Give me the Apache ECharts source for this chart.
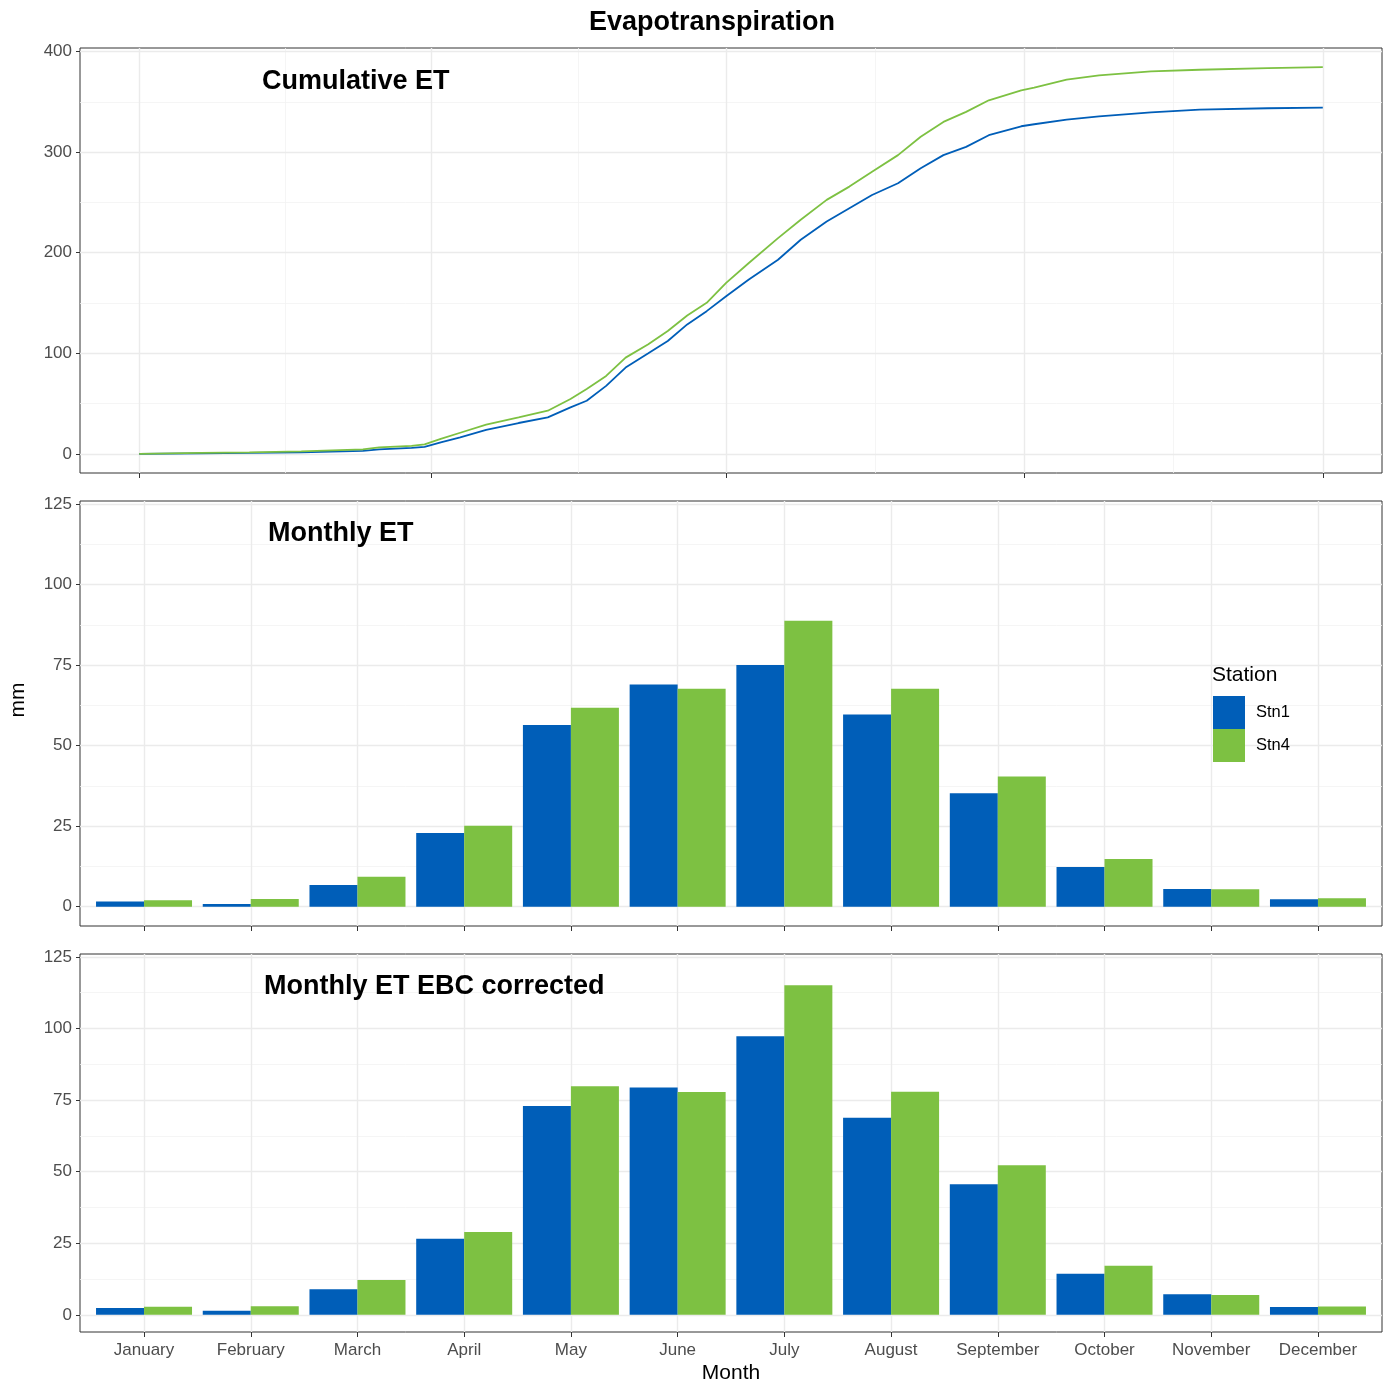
<!DOCTYPE html>
<html>
<head>
<meta charset="utf-8">
<script src="https://cdn.jsdelivr.net/npm/echarts@6/dist/echarts.min.js"></script>
<style>
html,body{margin:0;padding:0;background:#fff;}
#chart{width:1387px;height:1385px;}
</style>
</head>
<body>
<div id="chart"></div>
<script>
// ---------- data ----------
const months = ['January','February','March','April','May','June','July','August','September','October','November','December'];
const monthlyStn1 = [1.6, 0.8, 6.7, 22.9, 56.4, 69.0, 75.1, 59.7, 35.2, 12.3, 5.5, 2.3];
const monthlyStn4 = [2.0, 2.4, 9.3, 25.1, 61.8, 67.7, 88.8, 67.7, 40.4, 14.8, 5.4, 2.6];
const ebcStn1 = [2.4, 1.4, 8.9, 26.6, 72.9, 79.4, 97.3, 68.8, 45.6, 14.3, 7.2, 2.7];
const ebcStn4 = [2.8, 3.0, 12.2, 28.9, 79.8, 77.8, 115.1, 77.9, 52.2, 17.1, 6.9, 2.9];
const cumDays = [0, 19, 34, 50, 69, 74, 84, 88, 93, 99, 107, 117, 126, 133, 138, 144, 150, 157, 163, 169, 175, 181, 188, 197, 204, 212, 219, 226, 234, 241, 248, 255, 262, 272, 276, 286, 296, 312, 327, 348, 365];
const cumStn1 = [0, 0.5, 1, 1.5, 3, 4.5, 6, 7, 11.5, 16.5, 23.8, 30.7, 36.3, 46.2, 52.8, 67.6, 85.8, 100, 112.2, 128.7, 141.9, 156.7, 173.3, 193, 212.9, 231, 244.2, 257.4, 269, 283.9, 297, 305.2, 316.8, 325.7, 327.7, 332.4, 335.6, 339.6, 342.3, 343.6, 344.2];
const cumStn4 = [0, 1, 1.5, 2.5, 4.5, 6.5, 8, 9.5, 15, 21, 29, 36.3, 42.9, 54.5, 64.4, 77.5, 95.7, 108.9, 122.1, 137.6, 150.2, 170, 189.8, 214.5, 232.7, 252.5, 265.7, 280.5, 297, 315.2, 330, 340, 351.5, 361.4, 364, 372, 376.2, 380.2, 381.9, 383.5, 384.5];
const cumYTicks = [0, 100, 200, 300, 400];
const cumYMinor = [50, 150, 250, 350];
const cumXTicks = [0, 90, 181, 273, 365];
const cumXMinor = [45, 135.5, 227, 319];
const barYTicks = [0, 25, 50, 75, 100, 125];
const barYMinor = [12.5, 37.5, 62.5, 87.5, 112.5];
const monthPos = [1, 2, 3, 4, 5, 6, 7, 8, 9, 10, 11, 12];

// ---------- style ----------
const BLUE = '#005EB8';
const GREEN = '#7DC142';
const FONT = 'Liberation Sans, Arial, Helvetica, sans-serif';
const AXCOL = '#4D4D4D';
const MAJOR = {color: '#EBEBEB', width: 1.4, type: 'solid'};
const MINOR = {color: '#F3F3F3', width: 0.8, type: 'solid'};

function gridLines(xMaj, xMin, yMaj, yMin) {
  const d = [];
  (xMin || []).forEach(v => d.push({xAxis: v, lineStyle: MINOR}));
  (yMin || []).forEach(v => d.push({yAxis: v, lineStyle: MINOR}));
  (xMaj || []).forEach(v => d.push({xAxis: v, lineStyle: MAJOR}));
  (yMaj || []).forEach(v => d.push({yAxis: v, lineStyle: MAJOR}));
  return {silent: true, z: 0, symbol: ['none', 'none'], label: {show: false}, emphasis: {disabled: true}, animation: false, data: d};
}

const grids = [
  {left: 80, top: 48, width: 1302, height: 425},
  {left: 80, top: 501, width: 1302, height: 425},
  {left: 80, top: 954, width: 1302, height: 378}
].map(g => Object.assign(g, {show: true, borderColor: '#333333', borderWidth: 1, backgroundColor: 'transparent', containLabel: false}));

function yAxisCfg(gi, min, max, ticks) {
  return {
    type: 'value', gridIndex: gi, min: min, max: max, position: 'left',
    axisLine: {show: false, onZero: false},
    splitLine: {show: false},
    axisTick: {show: true, length: 4, customValues: ticks, lineStyle: {color: '#333333', width: 1}},
    axisLabel: {show: true, customValues: ticks, margin: 8, color: AXCOL, fontSize: 17, fontFamily: FONT}
  };
}

function xAxisCfg(gi, min, max, ticks, labelOpt) {
  return {
    type: 'value', gridIndex: gi, min: min, max: max, position: 'bottom',
    axisLine: {show: false, onZero: false}, splitLine: {show: false},
    axisTick: {show: true, length: 5, customValues: ticks, lineStyle: {color: '#333333', width: 1}},
    axisLabel: labelOpt || {show: false}
  };
}

const TT = {fontSize: 27, fontWeight: 'bold', color: '#000', fontFamily: FONT};

const option = {
  animation: false,
  backgroundColor: '#ffffff',
  textStyle: {fontFamily: FONT},
  grid: grids,
  title: [
    {text: 'Evapotranspiration', left: 589, top: 9, padding: 0, textStyle: TT},
    {text: 'Cumulative ET', left: 262, top: 68, padding: 0, textStyle: TT},
    {text: 'Monthly ET', left: 268, top: 520, padding: 0, textStyle: TT},
    {text: 'Monthly ET EBC corrected', left: 264, top: 973, padding: 0, textStyle: TT},
    {text: 'Station', left: 1212, top: 665, padding: 0, textStyle: {fontSize: 21, fontWeight: 'normal', color: '#000', fontFamily: FONT}}
  ],
  legend: {
    data: ['Stn1', 'Stn4'],
    orient: 'vertical', left: 1213, top: 696,
    itemWidth: 32, itemHeight: 33, itemGap: 0, padding: 0, z: 10,
    icon: 'rect', selectedMode: false,
    textStyle: {fontSize: 16.5, color: '#000', fontFamily: FONT, padding: [0, 0, 0, 6]}
  },
  graphic: [
    {type: 'text', x: 18, y: 700, rotation: Math.PI / 2, style: {text: 'mm', font: '21px ' + FONT, fill: '#000', textAlign: 'center', textVerticalAlign: 'middle'}},
    {type: 'text', x: 731, y: 1373, style: {text: 'Month', font: '21px ' + FONT, fill: '#000', textAlign: 'center', textVerticalAlign: 'middle'}}
  ],
  xAxis: [
    xAxisCfg(0, -18.25, 383.25, cumXTicks),
    xAxisCfg(1, 0.4, 12.6, monthPos),
    xAxisCfg(2, 0.4, 12.6, monthPos,
      {show: true, customValues: monthPos, margin: 10, color: AXCOL, fontSize: 17, fontFamily: FONT,
        formatter: v => months[Math.round(v) - 1] || ''})
  ],
  yAxis: [
    yAxisCfg(0, -19, 403.5, cumYTicks),
    yAxisCfg(1, -6, 126, barYTicks),
    yAxisCfg(2, -6, 126, barYTicks)
  ],
  series: [
    // grid lines (behind)
    {type: 'line', xAxisIndex: 0, yAxisIndex: 0, data: [], z: 0, silent: true,
      markLine: gridLines(cumXTicks, cumXMinor, cumYTicks, cumYMinor)},
    {type: 'line', xAxisIndex: 1, yAxisIndex: 1, data: [], z: 0, silent: true,
      markLine: gridLines(monthPos, null, barYTicks, barYMinor)},
    {type: 'line', xAxisIndex: 2, yAxisIndex: 2, data: [], z: 0, silent: true,
      markLine: gridLines(monthPos, null, barYTicks, barYMinor)},
    // cumulative
    {name: 'Stn1', type: 'line', xAxisIndex: 0, yAxisIndex: 0, z: 3, showSymbol: false, symbol: 'none',
      color: BLUE, lineStyle: {color: BLUE, width: 1.8},
      data: cumDays.map((d, i) => [d, cumStn1[i]])},
    {name: 'Stn4', type: 'line', xAxisIndex: 0, yAxisIndex: 0, z: 3, showSymbol: false, symbol: 'none',
      color: GREEN, lineStyle: {color: GREEN, width: 1.8},
      data: cumDays.map((d, i) => [d, cumStn4[i]])},
    // monthly
    {name: 'Stn1', type: 'bar', xAxisIndex: 1, yAxisIndex: 1, z: 3, barWidth: 48, barGap: '0%',
      itemStyle: {color: BLUE}, data: monthPos.map((m, i) => [m, monthlyStn1[i]])},
    {name: 'Stn4', type: 'bar', xAxisIndex: 1, yAxisIndex: 1, z: 3, barWidth: 48, barGap: '0%',
      itemStyle: {color: GREEN}, data: monthPos.map((m, i) => [m, monthlyStn4[i]])},
    // EBC corrected
    {name: 'Stn1', type: 'bar', xAxisIndex: 2, yAxisIndex: 2, z: 3, barWidth: 48, barGap: '0%',
      itemStyle: {color: BLUE}, data: monthPos.map((m, i) => [m, ebcStn1[i]])},
    {name: 'Stn4', type: 'bar', xAxisIndex: 2, yAxisIndex: 2, z: 3, barWidth: 48, barGap: '0%',
      itemStyle: {color: GREEN}, data: monthPos.map((m, i) => [m, ebcStn4[i]])}
  ]
};

const chart = echarts.init(document.getElementById('chart'), null, {renderer: 'canvas'});
chart.setOption(option);
</script>
</body>
</html>
